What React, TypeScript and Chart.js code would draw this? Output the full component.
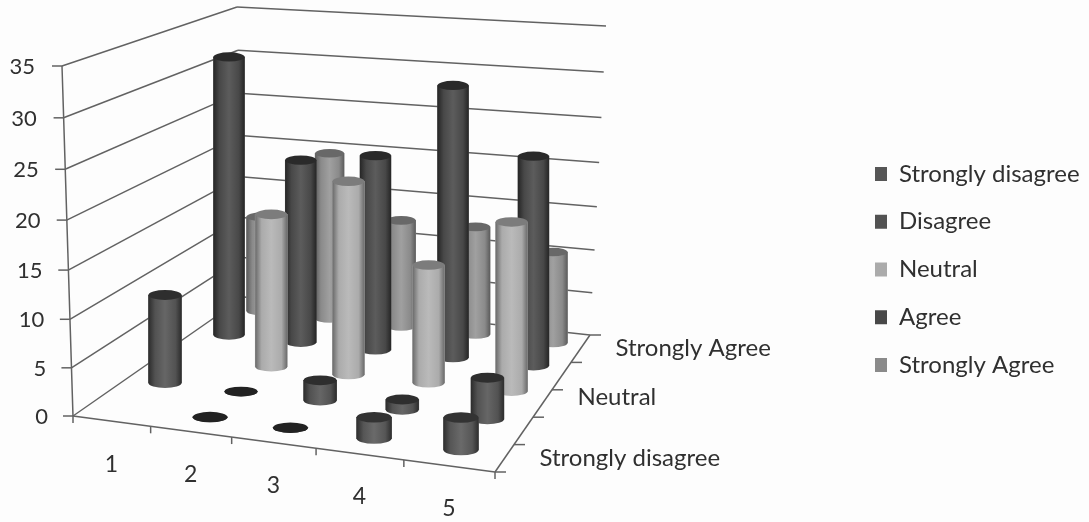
import React, { useEffect, useRef } from "react";
import { Chart, registerables } from "chart.js";

Chart.register(...registerables);

const categories = ["1", "2", "3", "4", "5"];
const seriesNames = ["Strongly disagree", "Disagree", "Neutral", "Agree", "Strongly Agree"];
const depthLabels = ["Strongly disagree", "", "Neutral", "", "Strongly Agree"];
const depthLabelLift = [0, 0, 6, 0, 0];
const yTicks = [0, 5, 10, 15, 20, 25, 30, 35];

const stronglyDisagree = [null, 0, 0, 2, 3];
const disagree = [9, 0, 2, 1, 4];
const neutral = [null, 16, 20, 12, 17];
const agree = [31, 20, 21, 29, 22];
const stronglyAgree = [11, 19, 12, 12, 10];
const seriesValues = [stronglyDisagree, disagree, neutral, agree, stronglyAgree];

const fills = ["#565656", "#525252", "#ababab", "#484848", "#8a8a8a"];
const centreShade = ["#6a6a6a", "#666666", "#bababa", "#5c5c5c", "#a0a0a0"];
const edgeShade = ["#2e2e2e", "#2c2c2c", "#6a6a6a", "#262626", "#5c5c5c"];
const capShade = ["#333333", "#2e2e2e", "#7c7c7c", "#2a2a2a", "#686868"];
const rowWidths = [35, 33, 32, 31, 29];

// Frame of the 3D box and centres of the four corner cells, in the picture's screen space.
const FRONT_LEFT = [73, 416];
const FRONT_RIGHT = [495, 472];
const BACK_RIGHT = [590, 335];
const BACK_LEFT = [244, 297];
const CELL_A = [133, 407];
const CELL_B = [461, 450];
const CELL_C = [261, 311];
const CELL_D = [553, 343];
const UNIT_FL = 10.3;
const UNIT_FR = 11.1;
const UNIT_BL = 8.3;
const UNIT_BR = 8.95;
const TEXT = "#303030";
const LINE = "#626262";
const FONT = "Lato";
const TICK_SIZE = 22;
const CATEGORY_SIZE = 23;
const NAME_SIZE = 24;

const warp = (u: number, k: number) => u - k * u * (1 - u);
const mix = (a: number[], b: number[], t: number) => [a[0] + (b[0] - a[0]) * t, a[1] + (b[1] - a[1]) * t];
const floor = (u: number, w: number) => {
  const t = warp(u, 0.1);
  return mix(mix(FRONT_LEFT, FRONT_RIGHT, t), mix(BACK_LEFT, BACK_RIGHT, t), w);
};
const cell = (c: number, s: number) => {
  const t = warp(c / (categories.length - 1), 0.08);
  const depth = warp(s / (seriesNames.length - 1), -0.2 * t);
  return mix(mix(CELL_A, CELL_B, t), mix(CELL_C, CELL_D, t), depth);
};

const pxToValue = (py: number) => (416 - py) / 10;
const unitAt = (u: number, w: number) =>
  (UNIT_FL * (1 - u) + UNIT_FR * u) * (1 - w) + (UNIT_BL * (1 - u) + UNIT_BR * u) * w;

const datasets = seriesValues.map((values, s) => ({
  label: seriesNames[s],
  data: values
    .map((v, c) => {
      if (v === null) return null;
      const u = (c + 0.5) / categories.length;
      const w = (s + 0.5) / seriesNames.length;
      const [px, py] = cell(c, s);
      const base = pxToValue(py);
      return { x: px, y: [base, base + (v * unitAt(u, w)) / 10] };
    })
    .filter(Boolean),
  backgroundColor: fills[s],
  borderWidth: 0,
  barThickness: rowWidths[s],
  grouped: false,
  clip: false,
}));

const bow = (v: number) => 4.2 * Math.sin((Math.PI * v) / 35);
const wallPoint = (corner: number[], lean: number, drop: number, v: number) => {
  const t = v / 35;
  return [corner[0] + lean * t, corner[1] - drop * t + bow(v)];
};

const framePlugin = {
  id: "frame",
  beforeDatasetsDraw(chart: any) {
    const { ctx } = chart;
    const yScale = chart.scales.y;
    ctx.save();
    ctx.strokeStyle = LINE;
    ctx.lineWidth = 1.5;
    const line = (a: number[], b: number[]) => {
      ctx.beginPath();
      ctx.moveTo(a[0], a[1]);
      ctx.lineTo(b[0], b[1]);
      ctx.stroke();
    };
    ctx.fillStyle = TEXT;
    ctx.font = `${TICK_SIZE}px ${FONT}`;
    ctx.textBaseline = "middle";
    ctx.textAlign = "right";
    yTicks.forEach((v) => {
      const py = yScale.getPixelForValue(v) + bow(v);
      const fl = [FRONT_LEFT[0] - (11 * v) / 35, py];
      const bl = wallPoint(BACK_LEFT, -7, 290, v);
      const br = wallPoint(BACK_RIGHT, 16, 309, v);
      line(fl, bl);
      line(bl, br);
      line([fl[0] - 10, py], fl);
      ctx.fillText(String(v), 48 - (13 * v) / 35, py + 1);
    });
    line([FRONT_LEFT[0], yScale.getPixelForValue(0)], [FRONT_LEFT[0] - 11, yScale.getPixelForValue(35)]);
    line(FRONT_LEFT, FRONT_RIGHT);
    line(FRONT_RIGHT, BACK_RIGHT);
    for (let c = 0; c <= categories.length; c++) {
      const p = floor(c / categories.length, 0);
      line(p, [p[0], p[1] + 7]);
    }
    for (let s = 0; s <= seriesNames.length; s++) {
      const p = floor(1, s / seriesNames.length);
      line(p, [p[0] + 11, p[1]]);
    }
    ctx.font = `${CATEGORY_SIZE}px ${FONT}`;
    ctx.textAlign = "center";
    categories.forEach((name, c) => {
      const p = floor((c + 0.5) / categories.length, 0);
      ctx.fillText(name, p[0], p[1] + 43);
    });
    ctx.textAlign = "left";
    ctx.font = `${NAME_SIZE}px ${FONT}`;
    depthLabels.forEach((name, s) => {
      if (!name) return;
      const p = floor(1, (s + 0.5) / seriesNames.length);
      ctx.fillText(name, p[0] + 35, p[1] - depthLabelLift[s]);
    });
    ctx.restore();
  },
  afterDatasetDraw(chart: any, args: any) {
    const s = args.index;
    const { ctx } = chart;
    ctx.save();
    args.meta.data.forEach((el: any) => {
      const { x, width } = el;
      const top = Math.min(el.y, el.base);
      const bottom = Math.max(el.y, el.base);
      const half = width / 2;
      const ry = half * 0.3;
      const grad = ctx.createLinearGradient(x - half, 0, x + half, 0);
      grad.addColorStop(0, edgeShade[s]);
      grad.addColorStop(0.2, fills[s]);
      grad.addColorStop(0.5, centreShade[s]);
      grad.addColorStop(0.82, fills[s]);
      grad.addColorStop(1, edgeShade[s]);
      ctx.fillStyle = grad;
      ctx.beginPath();
      ctx.ellipse(x, bottom, half, ry, 0, 0, Math.PI);
      ctx.lineTo(x - half, top);
      ctx.lineTo(x + half, top);
      ctx.closePath();
      ctx.fill();
      ctx.fillStyle = bottom - top < 1 ? "#222222" : capShade[s];
      ctx.beginPath();
      ctx.ellipse(x, top, half, ry, 0, 0, Math.PI * 2);
      ctx.fill();
    });
    ctx.restore();
  },
  beforeDraw(chart: any) {
    const legend = chart.legend;
    const w = legend.width, h = legend.height;
    legend.left = 851.25;
    legend.right = legend.left + w;
    legend.top = 138.25;
    legend.bottom = legend.top + h;
  },
};

export default function App() {
  const ref = useRef<HTMLCanvasElement>(null);
  useEffect(() => {
    const chart = new Chart(ref.current!, {
      type: "bar",
      data: { datasets: datasets as any },
      options: {
        animation: false,
        responsive: false,
        layout: { padding: { left: 10, right: 0, top: 66, bottom: 106 } },
        plugins: {
          tooltip: { enabled: false },
          legend: {
            position: "chartArea" as any,
            align: "start",
            labels: {
              boxWidth: 12,
              boxHeight: 14,
              padding: 23.75,
              color: TEXT,
              font: { family: FONT, size: NAME_SIZE },
            },
          },
        },
        scales: {
          x: { type: "linear", min: 60, max: 1089, display: false, offset: false },
          y: {
            type: "linear",
            min: 0,
            max: 35,
            afterFit: (s: any) => {
              s.width = 50;
            },
            border: { display: false },
            grid: { display: false, drawTicks: false },
            ticks: { stepSize: 5, display: false },
          },
        },
      },
      plugins: [framePlugin],
    });
    return () => chart.destroy();
  }, []);
  return (
    <div style={{ position: "fixed", left: 0, top: 0, width: 1089, height: 522, background: "#fdfdfd" }}>
      <canvas ref={ref} width={1089} height={522} style={{ display: "block", filter: "blur(0.7px)" }} />
    </div>
  );
}
